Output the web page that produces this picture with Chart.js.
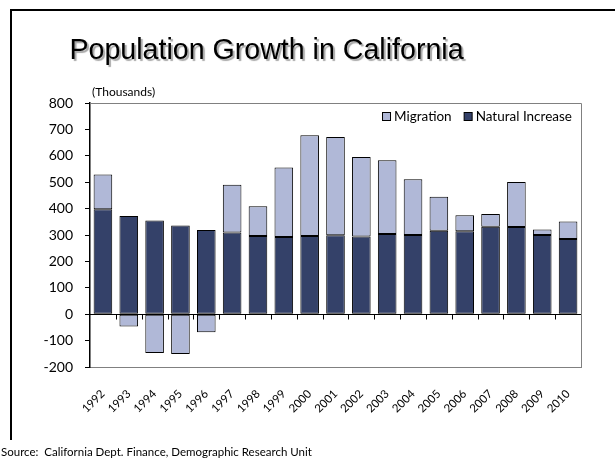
<!DOCTYPE html>
<html>
<head>
<meta charset="utf-8">
<script src="https://cdn.jsdelivr.net/npm/chart.js@4/dist/chart.umd.min.js"></script>
<style>
html,body{margin:0;padding:0;background:#fff;}
#wrap{position:relative;width:615px;height:461px;overflow:hidden;background:#fff;}
#frameTop{position:absolute;left:10px;top:9px;width:605px;height:2px;background:#000;}
#frameLeft{position:absolute;left:10px;top:9px;width:2px;height:431px;background:#000;}
#title{position:absolute;left:0;width:533px;top:33px;text-align:center;font-family:"Liberation Sans",Arial,sans-serif;font-size:28.6px;color:#000;text-shadow:2px 2px 1px #a8a8a8;white-space:nowrap;}
#units{position:absolute;left:92px;top:86px;font-family:Lato,sans-serif;font-size:12px;line-height:1;color:#000;}
#source{position:absolute;left:1px;top:446px;font-family:Lato,sans-serif;font-size:11.5px;line-height:1;color:#000;white-space:pre;}
#c{position:absolute;left:0;top:0;}
</style>
</head>
<body>
<div id="wrap">
  <div id="frameTop"></div>
  <div id="frameLeft"></div>
  <canvas id="c" width="615" height="461"></canvas>
  <div id="title">Population Growth in California</div>
  <div id="units">(Thousands)</div>
  <div id="source">Source:  California Dept. Finance, Demographic Research Unit</div>
</div>
<script>
const categories = ['1992','1993','1994','1995','1996','1997','1998','1999','2000','2001','2002','2003','2004','2005','2006','2007','2008','2009','2010'];
const naturalIncrease = [398, 372, 355, 336, 319, 309, 296, 292, 296, 299, 294, 304, 300, 316, 314, 331, 330, 300, 285];
const migration = [131, -47, -147, -151, -68, 181, 113, 264, 382, 372, 301, 279, 211, 129, 61, 49, 171, 21, 66];
const yTicks = [-200, -100, 0, 100, 200, 300, 400, 500, 600, 700, 800];

const darkColor = '#344169';
const lightColor = '#b0b8d7';

const refPlugin = {
  id: 'ref',
  afterDatasetsDraw(chart) {
    const { ctx, chartArea: a, scales: { x, y } } = chart;
    ctx.save();
    ctx.strokeStyle = '#808080';
    ctx.lineWidth = 1;
    ctx.beginPath();
    ctx.moveTo(a.left, Math.round(a.top) + 0.5);
    ctx.lineTo(Math.round(a.right) + 0.5, Math.round(a.top) + 0.5);
    ctx.lineTo(Math.round(a.right) + 0.5, a.bottom);
    ctx.stroke();
    const y0 = Math.round(y.getPixelForValue(0)) + 0.5;
    ctx.strokeStyle = '#000';
    ctx.beginPath();
    ctx.moveTo(a.left, y0);
    ctx.lineTo(a.right, y0);
    for (let i = 1; i < categories.length; i++) {
      const xb = Math.round((x.getPixelForTick(i - 1) + x.getPixelForTick(i)) / 2) + 0.5;
      ctx.moveTo(xb, y0);
      ctx.lineTo(xb, y0 + 5);
    }
    ctx.stroke();
    const items = chart.data.datasets.map(d => ({ label: d.label, color: d.backgroundColor })).reverse();
    ctx.font = '13.5px Lato, sans-serif';
    ctx.textBaseline = 'middle';
    ctx.fillStyle = '#000';
    const box = 8, gap = 4, sep = 12;
    let total = 0;
    items.forEach((it, i) => { total += box + gap + ctx.measureText(it.label).width + (i ? sep : 0); });
    let lx = a.right - 9 - total;
    const ly = a.top + 13;
    items.forEach((it, i) => {
      if (i) lx += sep;
      ctx.fillStyle = it.color;
      ctx.fillRect(lx + 0.5, ly - box / 2 + 0.5, box, box);
      ctx.strokeStyle = '#000';
      ctx.lineWidth = 1;
      ctx.strokeRect(lx + 0.5, ly - box / 2 + 0.5, box, box);
      lx += box + gap;
      ctx.fillStyle = '#000';
      ctx.fillText(it.label, lx, ly + 0.5);
      lx += ctx.measureText(it.label).width;
    });
    ctx.restore();
  }
};

new Chart(document.getElementById('c'), {
  type: 'bar',
  data: {
    labels: categories,
    datasets: [
      { label: 'Natural Increase', data: naturalIncrease, backgroundColor: darkColor, borderColor: '#000', borderWidth: 1, borderSkipped: false },
      { label: 'Migration', data: migration, backgroundColor: lightColor, borderColor: '#000', borderWidth: 1, borderSkipped: false }
    ]
  },
  options: {
    responsive: false,
    animation: false,
    devicePixelRatio: 1,
    layout: { padding: { left: 0, right: 34, top: 103, bottom: 0 } },
    datasets: { bar: { categoryPercentage: 1, barPercentage: 0.72 } },
    plugins: { legend: { display: false }, tooltip: { enabled: false }, title: { display: false } },
    scales: {
      x: {
        stacked: true,
        grid: { display: false },
        border: { display: true, color: '#808080', width: 1 },
        ticks: { autoSkip: false, maxRotation: 45, minRotation: 45, padding: 12, color: '#000', font: { family: 'Lato', size: 11.5 } },
        afterFit(s) { s.height = 94; }
      },
      y: {
        stacked: true,
        min: -200,
        max: 800,
        afterBuildTicks(s) { s.ticks = yTicks.map(v => ({ value: v })); },
        grid: { display: true, drawOnChartArea: false, drawTicks: true, tickLength: 5, color: '#000' },
        border: { display: true, color: '#000', width: 1.5 },
        ticks: { padding: 12, color: '#000', font: { family: 'Lato', size: 14 } },
        afterFit(s) { s.width = 90; }
      }
    }
  },
  plugins: [refPlugin]
});
</script>
</body>
</html>
